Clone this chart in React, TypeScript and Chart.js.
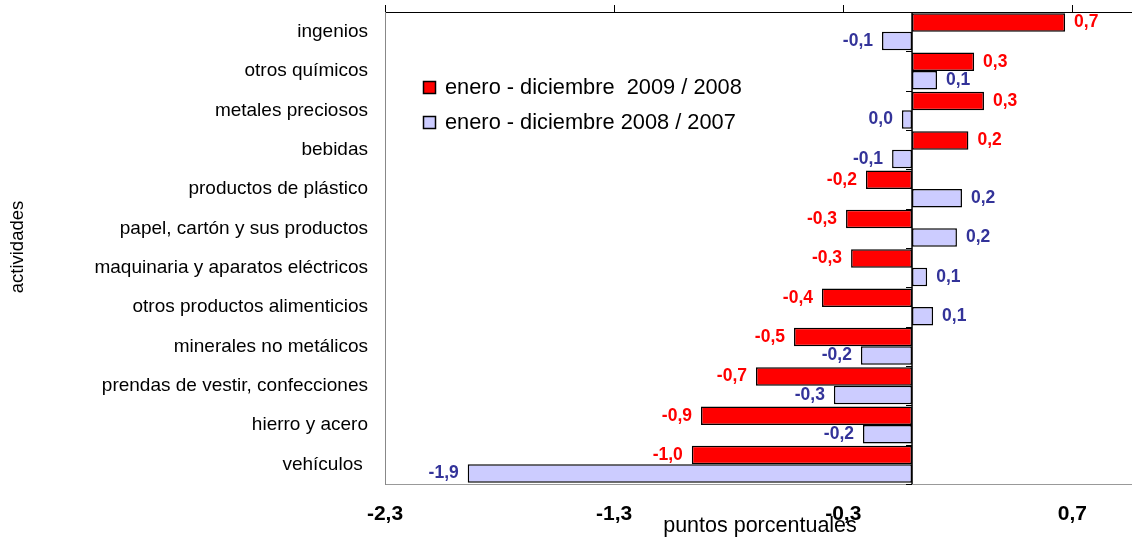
import React, { useEffect, useRef } from "react";
import { Chart, registerables } from "chart.js";

Chart.register(...registerables);

const categories = [
  "ingenios",
  "otros químicos",
  "metales preciosos",
  "bebidas",
  "productos de plástico",
  "papel, cartón y sus productos",
  "maquinaria y aparatos eléctricos",
  "otros productos alimenticios",
  "minerales no metálicos",
  "prendas de vestir, confecciones",
  "hierro y acero",
  "vehículos ",
];

const series2009 = [0.668, 0.271, 0.314, 0.246, -0.201, -0.288, -0.266, -0.393, -0.515, -0.681, -0.921, -0.961];
const series2008 = [-0.131, 0.109, -0.044, -0.087, 0.218, 0.196, 0.066, 0.092, -0.223, -0.341, -0.214, -1.939];

const seriesLabels = ["enero - diciembre  2009 / 2008", "enero - diciembre 2008 / 2007"];
const xTickValues = [-2.3, -1.3, -0.3, 0.7];
const xTitle = "puntos porcentuales";
const yTitle = "actividades";

const FONT = "'Liberation Sans', Arial, sans-serif";
const RED = "#FF0000";
const LAVENDER = "#CCCCFF";
const LABEL_COLORS = ["#FF0000", "#333399"];

function fmt(v: number): string {
  const r = Math.round(v * 10) / 10;
  return (r === 0 ? 0 : r).toFixed(1).replace(".", ",");
}

const extrasPlugin = {
  id: "extras",
  afterDatasetsDraw(chart: any) {
    const { ctx, chartArea, scales } = chart;
    const x0 = scales.x.getPixelForValue(0);
    ctx.save();
    // category axis at zero
    ctx.strokeStyle = "#000";
    ctx.lineWidth = 1.5;
    ctx.beginPath();
    ctx.moveTo(x0, chartArea.top);
    ctx.lineTo(x0, chartArea.bottom);
    ctx.stroke();
    ctx.lineWidth = 1;
    const n = categories.length;
    for (let i = 0; i <= n; i++) {
      const y = Math.round(chartArea.top + (i * (chartArea.bottom - chartArea.top)) / n) + 0.5;
      ctx.beginPath();
      ctx.moveTo(x0 - 6, y);
      ctx.lineTo(x0, y);
      ctx.stroke();
    }
    // data labels
    ctx.font = `bold 17.5px ${FONT}`;
    ctx.textBaseline = "middle";
    chart.data.datasets.forEach((ds: any, di: number) => {
      const meta = chart.getDatasetMeta(di);
      ctx.fillStyle = LABEL_COLORS[di];
      meta.data.forEach((el: any, i: number) => {
        const v = ds.data[i] as number;
        const txt = fmt(v);
        if (v >= 0) {
          ctx.textAlign = "left";
          ctx.fillText(txt, el.x + 9, el.y);
        } else {
          ctx.textAlign = "right";
          ctx.fillText(txt, el.x - 9, el.y);
        }
      });
    });
    // legend
    const colors = [RED, LAVENDER];
    const rows = [87, 122];
    ctx.font = `21.8px ${FONT}`;
    ctx.textAlign = "left";
    rows.forEach((cy, i) => {
      ctx.fillStyle = colors[i];
      ctx.fillRect(423, cy - 6, 13, 13);
      ctx.strokeStyle = "#000";
      ctx.lineWidth = 1.5;
      ctx.strokeRect(423.5, cy - 5.5, 12, 12);
      ctx.fillStyle = "#000";
      ctx.fillText(seriesLabels[i], 445, cy + 1);
    });
    ctx.restore();
  },
  afterDraw(chart: any) {
    const { ctx } = chart;
    ctx.save();
    ctx.fillStyle = "#000";
    ctx.font = `21.5px ${FONT}`;
    ctx.textAlign = "center";
    ctx.textBaseline = "alphabetic";
    ctx.fillText(xTitle, 760, 532);
    ctx.translate(23, 247);
    ctx.rotate(-Math.PI / 2);
    ctx.font = `18.5px ${FONT}`;
    ctx.fillText(yTitle, 0, 0);
    ctx.restore();
  },
};

export default function App() {
  const ref = useRef<HTMLCanvasElement | null>(null);
  useEffect(() => {
    if (!ref.current) return;
    const setTicks = (s: any) => {
      s.ticks = xTickValues.map((v) => ({ value: v }));
    };
    const chart = new Chart(ref.current, {
      type: "bar",
      data: {
        labels: categories,
        datasets: [
          {
            label: seriesLabels[0],
            data: series2009,
            backgroundColor: RED,
            borderColor: "#000",
            borderWidth: 1.5,
            borderSkipped: false,
            categoryPercentage: 0.94,
            barPercentage: 1,
          },
          {
            label: seriesLabels[1],
            data: series2008,
            backgroundColor: LAVENDER,
            borderColor: "#000",
            borderWidth: 1.5,
            borderSkipped: false,
            categoryPercentage: 0.94,
            barPercentage: 1,
          },
        ],
      },
      options: {
        indexAxis: "y",
        animation: false,
        responsive: true,
        maintainAspectRatio: false,
        layout: { padding: { top: 5, left: 0, right: 0, bottom: 0 } },
        plugins: { legend: { display: false }, tooltip: { enabled: false } },
        scales: {
          x: {
            type: "linear",
            position: "bottom",
            min: -2.3,
            max: 0.96,
            afterBuildTicks: setTicks,
            afterFit: (s: any) => {
              s.height = 53;
              s.paddingLeft = 0;
              s.paddingRight = 0;
            },
            ticks: {
              callback: (v: any) => fmt(Number(v)),
              font: { family: FONT, size: 21, weight: "bold" },
              color: "#000",
              padding: 18,
              maxRotation: 0,
              autoSkip: false,
            },
            grid: { display: false, drawTicks: false },
            border: { display: true, color: "#999", width: 1 },
          },
          x2: {
            type: "linear",
            position: "top",
            min: -2.3,
            max: 0.96,
            afterBuildTicks: setTicks,
            afterFit: (s: any) => {
              s.height = 7;
              s.paddingLeft = 0;
              s.paddingRight = 0;
            },
            ticks: { display: false },
            grid: { display: true, drawOnChartArea: false, drawTicks: true, tickLength: 7, color: "#000" },
            border: { display: true, color: "#000", width: 1 },
          },
          y: {
            type: "category",
            position: "left",
            afterFit: (s: any) => {
              s.width = 385;
              s.paddingTop = 0;
              s.paddingBottom = 0;
            },
            ticks: {
              font: { family: FONT, size: 19 },
              color: "#000",
              padding: 17,
              autoSkip: false,
            },
            grid: { display: false, drawTicks: false },
            border: { display: true, color: "#888", width: 1 },
          },
        },
      } as any,
      plugins: [extrasPlugin],
    });
    return () => chart.destroy();
  }, []);
  return (
    <div style={{ position: "absolute", left: 0, top: 0, width: 1132, height: 537 }}>
      <canvas ref={ref} />
    </div>
  );
}
